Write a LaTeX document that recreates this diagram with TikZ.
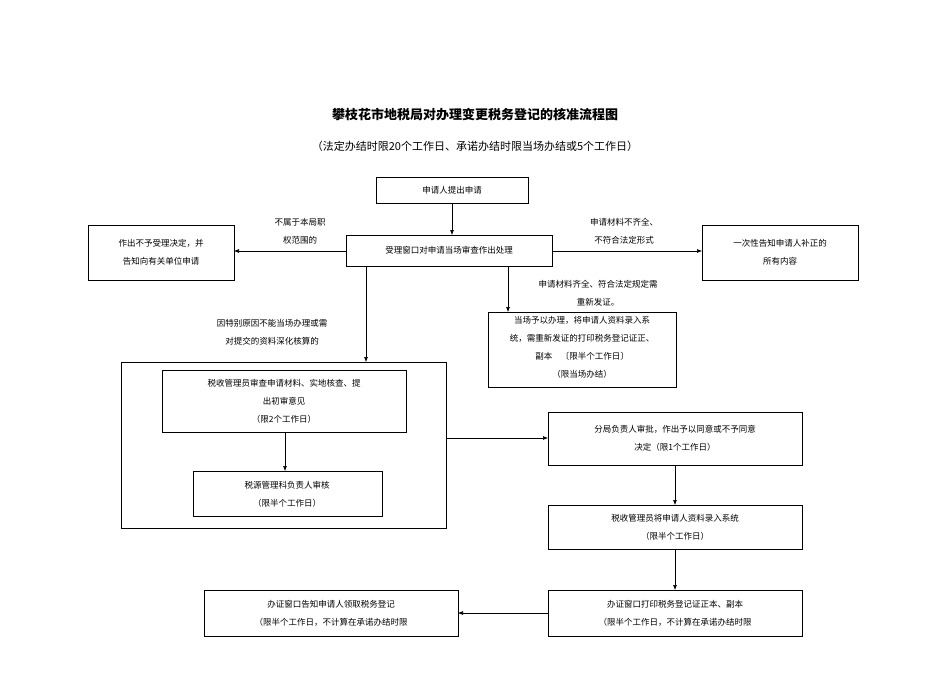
\documentclass[tikz,border=0pt]{standalone}
\usepackage{fontspec}
\setmainfont{Noto Sans CJK SC}
\usetikzlibrary{arrows.meta}
\begin{document}
\begin{tikzpicture}[x=1pt,y=-1pt,
  bx/.style={draw,line width=0.6pt},
  tx/.style={font=\fontsize{8.5}{18}\selectfont,align=center,inner sep=0pt},
  ar/.style={-{Latex[length=5pt,width=4pt]},line width=0.6pt}]
\useasboundingbox (0,0) rectangle (950,672);
\node[font=\fontsize{13}{15}\selectfont\bfseries] (title) at (475,115) {攀枝花市地税局对办理变更税务登记的核准流程图};
\node[font=\fontsize{11}{13}\selectfont] (sub) at (475,146) {（法定办结时限20个工作日、承诺办结时限当场办结或5个工作日）};
% boxes
\draw[bx] (376,177) rectangle (528,203); \node[tx] (a) at (452,190) {申请人提出申请};
\coordinate (aS) at (452,203);
\draw[bx] (346,235) rectangle (552,266); \node[tx] (b) at (449,250) {受理窗口对申请当场审查作出处理};
\coordinate (bN) at (452,235); \coordinate (bW) at (346,251); \coordinate (bE) at (552,251);
\coordinate (bS1) at (366,266); \coordinate (bS2) at (508,266);
\draw[bx] (88,225) rectangle (234,280); \node[tx] (l) at (161,252) {作出不予受理决定，并\\告知向有关单位申请};
\coordinate (lE) at (234,251);
\draw[bx] (702,225) rectangle (858,280); \node[tx] (r) at (780,252) {一次性告知申请人补正的\\所有内容};
\coordinate (rW) at (702,251);
\draw[bx] (488,312) rectangle (676,387);
\begin{scope}
\clip (488,312) rectangle (676,387);
\node[tx,anchor=north] (c) at (582,316) {当场予以办理，将申请人资料录入系\\统，需重新发证的打印税务登记证正、\\副本　〔限半个工作日〕\\（限当场办结）};
\end{scope}
\coordinate (cN) at (508,312);
\draw[bx] (121,362) rectangle (446,528);
\coordinate (BN) at (366,362); \coordinate (BE) at (446,438);
\draw[bx] (162,370) rectangle (406,432); \node[tx] (d) at (284,401) {税收管理员审查申请材料、实地核查、提\\出初审意见\\（限2个工作日）};
\coordinate (dS) at (285,432);
\draw[bx] (193,471) rectangle (382,516); \node[tx] (e) at (287,494) {税源管理科负责人审核\\（限半个工作日）};
\coordinate (eN) at (285,471);
\draw[bx] (548,412) rectangle (802,465); \node[tx] (f) at (675,438) {分局负责人审批，作出予以同意或不予同意\\决定（限1个工作日）};
\coordinate (fW) at (548,438); \coordinate (fS) at (675,465);
\draw[bx] (548,505) rectangle (802,549); \node[tx] (g) at (675,527) {税收管理员将申请人资料录入系统\\（限半个工作日）};
\coordinate (gN) at (675,505); \coordinate (gS) at (675,549);
\draw[bx] (548,590) rectangle (802,636); \node[tx] (h) at (675,613) {办证窗口打印税务登记证正本、副本\\（限半个工作日，不计算在承诺办结时限};
\coordinate (hN) at (675,590); \coordinate (hW) at (548,613);
\draw[bx] (204,590) rectangle (458,636); \node[tx] (i) at (331,613) {办证窗口告知申请人领取税务登记\\（限半个工作日，不计算在承诺办结时限};
\coordinate (iE) at (458,613);
% arrows
\draw[ar] (aS) -- (bN);
\draw[ar] (bW) -- (lE);
\draw[ar] (bE) -- (rW);
\draw[ar] (bS1) -- (BN);
\draw[ar] (bS2) -- (cN);
\draw[ar] (BE) -- (fW);
\draw[ar] (dS) -- (eN);
\draw[ar] (fS) -- (gN);
\draw[ar] (gS) -- (hN);
\draw[ar] (hW) -- (iE);
% labels
\node[tx] (L1) at (300,231) {不属于本局职\\权范围的};
\node[tx] (L2) at (624,231) {申请材料不齐全、\\不符合法定形式};
\node[tx] (L3) at (598,293) {申请材料齐全、符合法定规定需\\重新发证。};
\node[tx] (L4) at (272,332) {因特别原因不能当场办理或需\\对提交的资料深化核算的};
\end{tikzpicture}
\end{document}
